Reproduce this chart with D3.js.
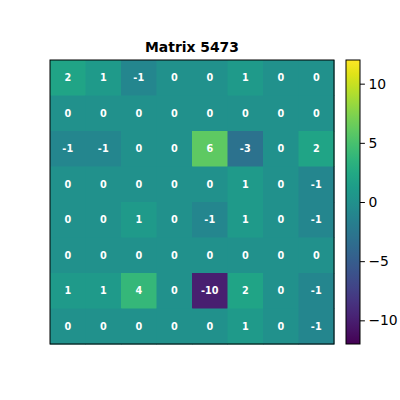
<!DOCTYPE html>
<html>
<head>
<meta charset="utf-8">
<script src="https://cdn.jsdelivr.net/npm/d3@7"></script>
<style>
  body { margin: 0; background: #fff; }
  svg { display: block; font-family: "DejaVu Sans", sans-serif; }
</style>
</head>
<body>
<svg id="chart" width="400" height="400"></svg>
<script>
const title = "Matrix 5473";
const rows = d3.range(8);
const cols = d3.range(8);
const values = [
    [ 2,  1, -1, 0,   0,  1, 0,  0],
    [ 0,  0,  0, 0,   0,  0, 0,  0],
    [-1, -1,  0, 0,   6, -3, 0,  2],
    [ 0,  0,  0, 0,   0,  1, 0, -1],
    [ 0,  0,  1, 0,  -1,  1, 0, -1],
    [ 0,  0,  0, 0,   0,  0, 0,  0],
    [ 1,  1,  4, 0, -10,  2, 0, -1],
    [ 0,  0,  0, 0,   0,  1, 0, -1]
];
const colorDomain = [-12, 12];
const colorTicks = [-10, -5, 0, 5, 10];

const svg = d3.select("#chart");
const margin = {left: 50, top: 60, size: 284};

const x = d3.scaleBand().domain(cols).range([margin.left, margin.left + margin.size]);
const y = d3.scaleBand().domain(rows).range([margin.top, margin.top + margin.size]);
const color = d3.scaleSequential(d3.interpolateViridis).domain(colorDomain);

const cells = [];
rows.forEach(r => cols.forEach(c => cells.push({r: r, c: c, v: values[r][c]})));

svg.append("g").selectAll("rect")
    .data(cells)
    .join("rect")
    .attr("x", d => x(d.c))
    .attr("y", d => y(d.r))
    .attr("width", x.bandwidth() + 0.5)
    .attr("height", y.bandwidth() + 0.5)
    .attr("fill", d => color(d.v));

svg.append("g").selectAll("text")
    .data(cells)
    .join("text")
    .attr("x", d => x(d.c) + x.bandwidth() / 2)
    .attr("y", d => y(d.r) + y.bandwidth() / 2)
    .attr("text-anchor", "middle")
    .attr("dominant-baseline", "central")
    .attr("fill", "white")
    .attr("font-weight", "bold")
    .attr("font-size", "9.7px")
    .text(d => d.v);

svg.append("rect")
    .attr("x", margin.left)
    .attr("y", margin.top)
    .attr("width", margin.size)
    .attr("height", margin.size)
    .attr("fill", "none")
    .attr("stroke", "black")
    .attr("stroke-width", 1);

svg.append("text")
    .attr("x", margin.left + margin.size / 2)
    .attr("y", 52)
    .attr("text-anchor", "middle")
    .attr("font-weight", "bold")
    .attr("font-size", "13.9px")
    .text(title);

// colorbar
const cb = {x: 346, w: 14};
const cy = d3.scaleLinear().domain(colorDomain).range([margin.top + margin.size, margin.top]);
const defs = svg.append("defs");
const grad = defs.append("linearGradient")
    .attr("id", "cbgrad")
    .attr("x1", 0).attr("y1", 1).attr("x2", 0).attr("y2", 0);
d3.range(0, 1.0001, 0.05).forEach(t => {
    grad.append("stop")
        .attr("offset", t)
        .attr("stop-color", d3.interpolateViridis(t));
});
svg.append("rect")
    .attr("x", cb.x)
    .attr("y", margin.top)
    .attr("width", cb.w)
    .attr("height", margin.size)
    .attr("fill", "url(#cbgrad)")
    .attr("stroke", "black")
    .attr("stroke-width", 1);

const axis = d3.axisRight(cy)
    .tickValues(colorTicks)
    .tickSize(4.9)
    .tickPadding(3.5)
    .tickFormat(d => (d < 0 ? "\u2212" + Math.abs(d) : d));
const ax = svg.append("g")
    .attr("transform", `translate(${cb.x + cb.w},0)`)
    .call(axis);
ax.select(".domain").remove();
ax.selectAll("text")
    .attr("font-size", "13.9px")
    .attr("font-family", "DejaVu Sans, sans-serif")
    .attr("fill", "#000");
ax.selectAll("line").attr("stroke", "#000");
</script>
</body>
</html>
